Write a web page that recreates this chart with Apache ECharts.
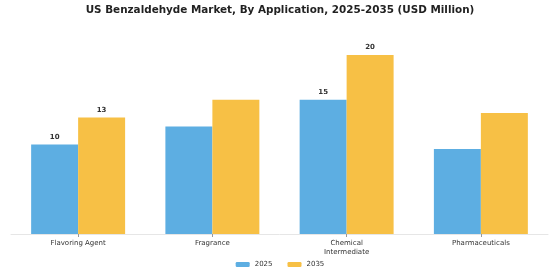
<!DOCTYPE html>
<html><head><meta charset="utf-8">
<script src="https://cdn.jsdelivr.net/npm/echarts@6/dist/echarts.min.js"></script>
<style>html,body{margin:0;padding:0;background:#fff}#c{width:560px;height:280px}</style>
</head><body><div id="c"></div>
<script>
const categories = ['Flavoring Agent', 'Fragrance', 'Chemical\nIntermediate', 'Pharmaceuticals'];
const values2025 = [10, 12, 15, 9.5];
const values2035 = [13, 15, 20, 13.5];
const labeled = [true, false, true, false];
const seriesNames = ['2025', '2035'];

const chart = echarts.init(document.getElementById('c'), null, {renderer: 'canvas'});
function mk(vals) {
  return vals.map((v, i) => ({value: v, label: {show: labeled[i]}}));
}
const lbl = {position: 'top', distance: 4, fontSize: 7, fontWeight: 'bold', color: '#333', fontFamily: 'DejaVu Sans'};
chart.setOption({
  animation: false,
  backgroundColor: '#fff',
  title: {text: 'US Benzaldehyde Market, By Application, 2025-2035 (USD Million)', left: 'center', top: 0,
    textStyle: {fontSize: 10.4, fontWeight: 'bold', color: '#222', fontFamily: 'DejaVu Sans'}},
  legend: {bottom: 7, left: 'center', itemWidth: 14, itemHeight: 5, itemGap: 15,
    textStyle: {fontSize: 7, color: '#333', fontFamily: 'DejaVu Sans'}, data: seriesNames},
  grid: {left: 11, right: 12, top: 37, bottom: 46, containLabel: false},
  xAxis: {type: 'category', data: categories,
    axisLine: {show: true, lineStyle: {color: '#e6e6e6'}},
    axisTick: {show: true, alignWithLabel: true, length: 3, lineStyle: {color: '#999'}},
    axisLabel: {fontSize: 7, color: '#333', fontFamily: 'DejaVu Sans', margin: 5, lineHeight: 9}},
  yAxis: {type: 'value', min: 0, max: 22, show: false, splitLine: {show: false}},
  series: [
    {name: seriesNames[0], type: 'bar', data: mk(values2025), barGap: '0%', barCategoryGap: '30%',
     itemStyle: {color: '#5DAEE2'}, label: lbl},
    {name: seriesNames[1], type: 'bar', data: mk(values2035), barGap: '0%', barCategoryGap: '30%',
     itemStyle: {color: '#F7C045'}, label: lbl}
  ]
});
</script></body></html>
